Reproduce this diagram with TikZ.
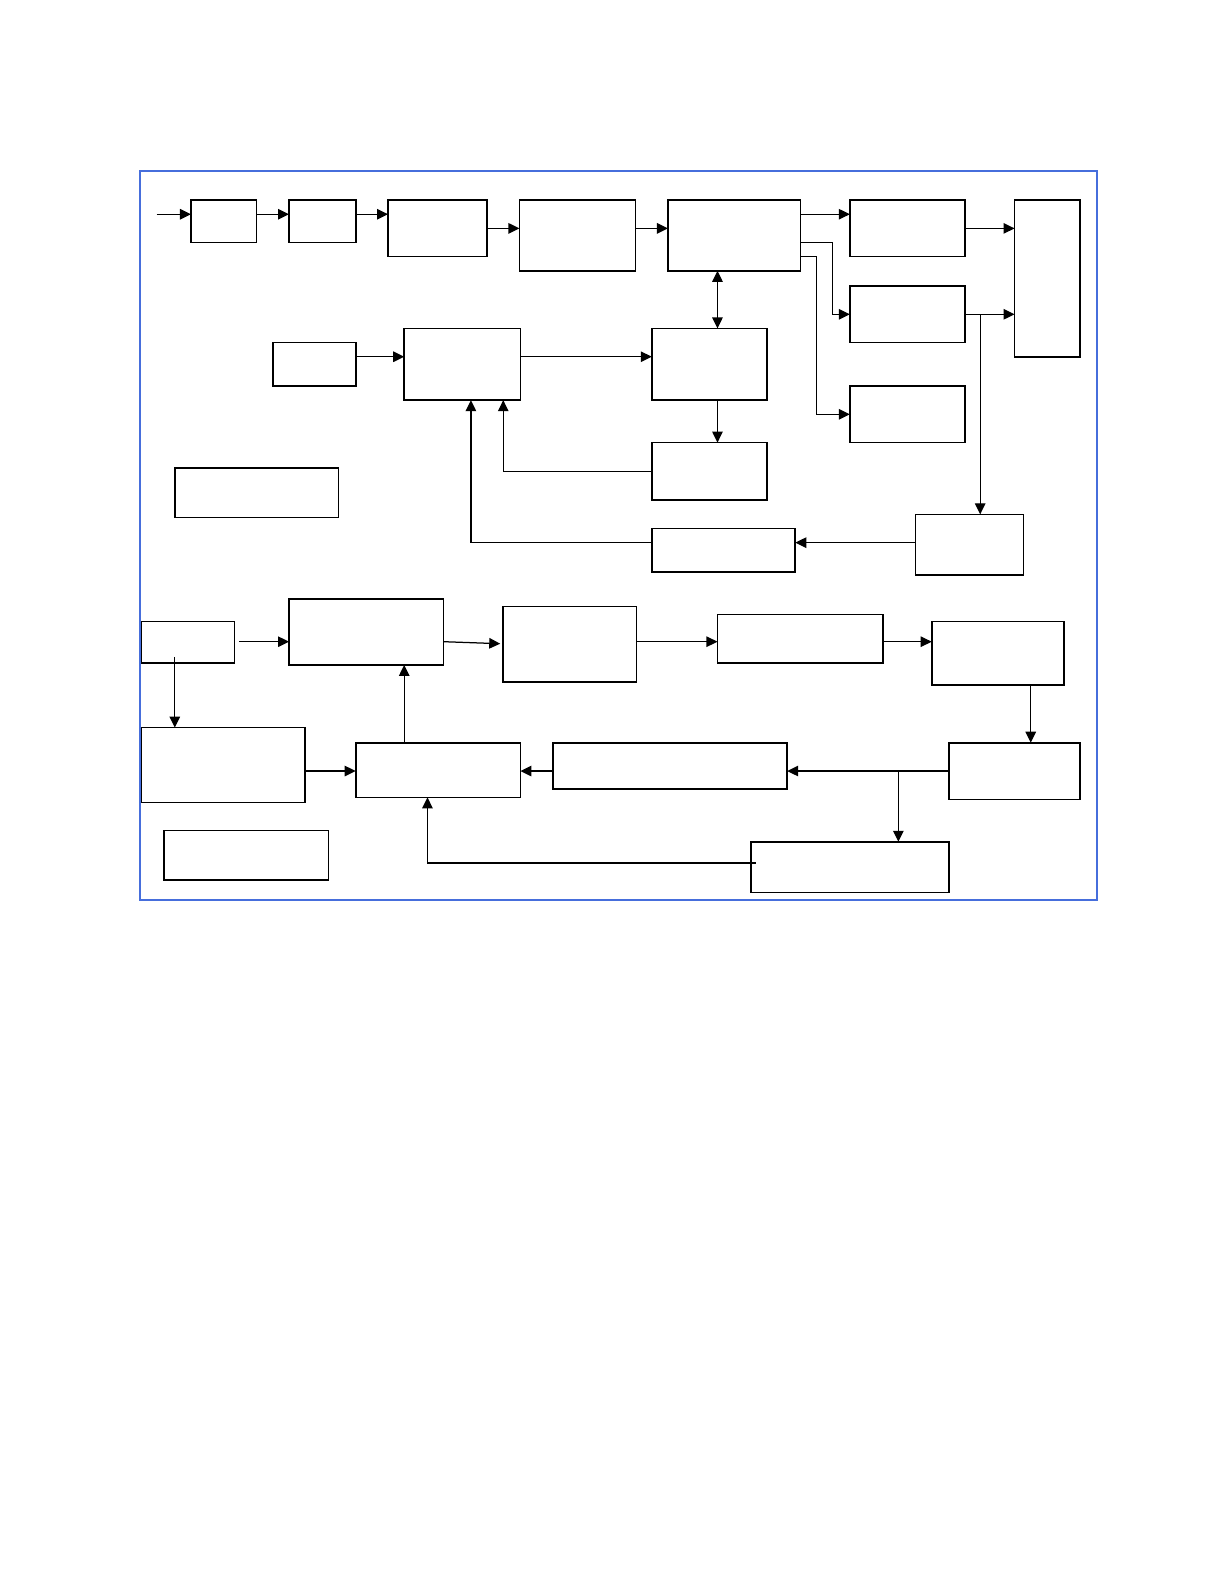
\documentclass[tikz,border=0pt]{standalone}
\usetikzlibrary{arrows.meta,calc}
\definecolor{frameblue}{RGB}{70,110,220}
\definecolor{noteblue}{RGB}{30,30,140}
\tikzset{
  box/.style={draw,line width=1.6pt,inner sep=0pt,outer sep=0pt,anchor=north west,fill=white},
  arr/.style={line width=1.25pt,-{Triangle[length=11pt,width=10.5pt]}},
  arrtwo/.style={line width=1.25pt,{Triangle[length=11pt,width=10.5pt]}-{Triangle[length=11pt,width=10.5pt]}},
}
\newcommand{\bx}[5]{\node[box,minimum width={(#4-#2)*1.0105pt},minimum height={(#5-#3)*1.0105pt}] (#1) at (#2,#3) {};}
\begin{document}
\begin{tikzpicture}[x=1.0105pt,y=-1.0105pt]
\useasboundingbox (0,0) rectangle (1211.3,1567.5);
% frame
\draw[frameblue,line width=2pt] (139,169) rectangle (1086,891);
\draw[noteblue,line width=1.5pt] (127,1575) -- (268,1575);
% helper coordinates
\coordinate (in) at (155,212);
\coordinate (y226) at (0,226);
\coordinate (y240) at (0,240);
\coordinate (y254) at (0,254);
\coordinate (y353) at (0,353);
\coordinate (y537) at (0,537);
\coordinate (y635) at (0,635);
\coordinate (y637) at (0,637);
\coordinate (y763) at (0,763);
\coordinate (y854) at (0,854);
\coordinate (x710) at (710,0);
\coordinate (x498) at (498,0);
\coordinate (x466) at (466,0);
\coordinate (x970) at (970,0);
\coordinate (x824) at (824,0);
\coordinate (x808) at (808,0);
\coordinate (x1020) at (1020,0);
\coordinate (x889) at (889,0);
\coordinate (x400) at (400,0);
\coordinate (x173) at (173,0);
\coordinate (x423) at (423,0);
% top boxes
\bx{B1}{189}{198}{254}{240}
\bx{B2}{286}{198}{352}{240}
\bx{B3}{384}{198}{482}{254}
\bx{B4}{514}{198}{629}{268}
\bx{B5}{661}{198}{792}{268}
\bx{B6}{841}{198}{955}{254}
\bx{B7}{1004}{198}{1069}{353}
\bx{B8}{841}{283}{955}{339}
\bx{B9}{841}{382}{955}{438}
\bx{B10}{645}{325}{759}{396}
\bx{B11}{270}{339}{352}{382}
\bx{B12}{400}{325}{515}{396}
\bx{B13}{645}{438}{759}{495}
\bx{B14}{645}{523}{787}{566}
\bx{Bfb}{906}{509}{1013}{569}
\bx{B15}{173}{463}{335}{512}
% bottom boxes
\bx{C1}{140}{615}{232}{656}
\bx{C2}{286}{593}{439}{658}
\bx{C3}{498}{600}{630}{675}
\bx{C4}{710}{608}{874}{656}
\bx{C5}{922}{615}{1053}{678}
\bx{C6}{939}{735}{1069}{791}
\bx{C7}{547}{735}{779}{781}
\bx{C9}{352}{735}{515}{789}
\bx{C10}{140}{720}{302}{794}
\bx{C8}{743}{833}{939}{883}
\bx{C11}{162}{822}{325}{871}
% top connectors
\draw[arr] (in) -- (in -| B1.west);
\draw[arr] (B1.east |- in) -- (B2.west |- in);
\draw[arr] (B2.east |- in) -- (B3.west |- in);
\draw[arr] (B3.east |- y226) -- (B4.west |- y226);
\draw[arr] (B4.east |- y226) -- (B5.west |- y226);
\draw[arr] (B5.east |- in) -- (B6.west |- in);
\draw[arr] (B6.east |- y226) -- (B7.west |- y226);
\draw[arr] (B5.east |- y240) -| (B8.west -| x824) -- (B8.west);
\draw[arr] (B5.east |- y254) -| (B9.west -| x808) -- (B9.west);
\draw[arr] (B8.east) -- (B8.east -| B7.west);
\draw[arr] (B8.east -| x970) -- (Bfb.north -| x970);
\draw[arrtwo] (B5.south -| x710) -- (B10.north -| x710);
\draw[arr] (B11.east |- y353) -- (B12.west |- y353);
\draw[arr] (B12.east |- y353) -- (B10.west |- y353);
\draw[arr] (B10.south -| x710) -- (B13.north -| x710);
\draw[arr] (B13.west) -| (B12.south -| x498);
\draw[arr] (B14.west |- y537) -| (B12.south -| x466);
\draw[arr] (Bfb.west |- y537) -- (B14.east |- y537);
% bottom connectors
\draw[arr] ([xshift=5pt]C1.east |- y635) -- (C2.west |- y635);
\draw[arr] (C2.east |- y635) -- ([xshift=-3pt]C3.west |- y637);
\draw[arr] (C3.east |- y635) -- (C4.west |- y635);
\draw[arr] (C4.east |- y635) -- (C5.west |- y635);
\draw[arr] (C5.south -| x1020) -- (C6.north -| x1020);
\draw[arr] (C6.west |- y763) -- (C7.east |- y763);
\draw[arr] (C6.west |- y763 -| x889) -- (C8.north -| x889);
\draw[arr] (C7.west |- y763) -- (C9.east |- y763);
\draw[arr] (C10.east |- y763) -- (C9.west |- y763);
\draw[arr] (C9.north -| x400) -- (C2.south -| x400);
\draw[arr] ([yshift=6pt]C1.south -| x173) -- (C10.north -| x173);
\draw[arr] ([xshift=5pt]C8.west |- y854) -| (C9.south -| x423);
\end{tikzpicture}
\end{document}
